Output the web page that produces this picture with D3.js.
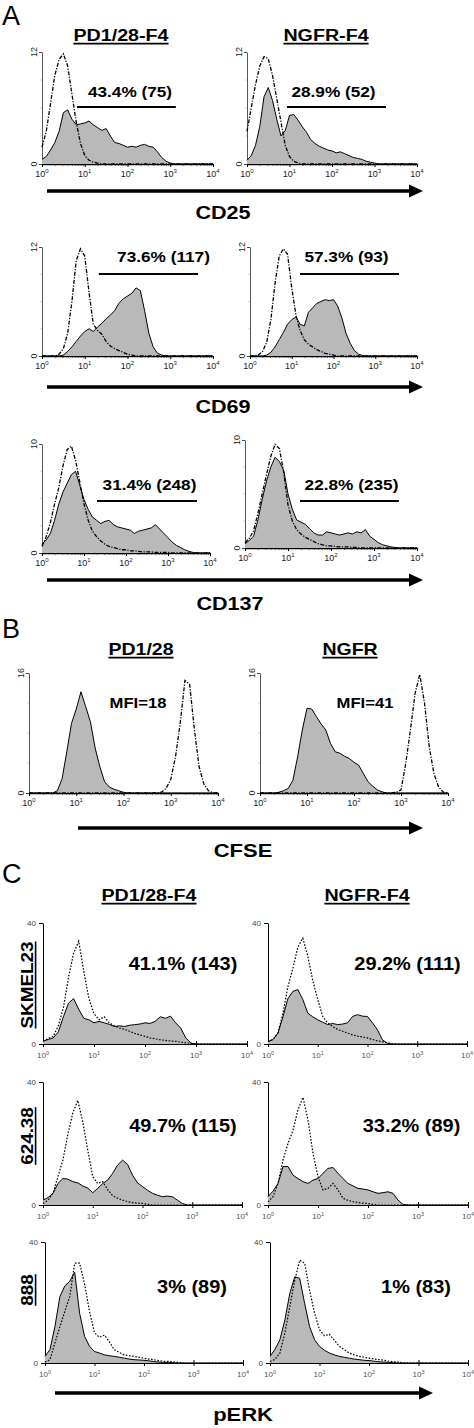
<!DOCTYPE html>
<html><head><meta charset="utf-8">
<script src="https://cdn.jsdelivr.net/npm/d3@7/dist/d3.min.js"></script>
<style>body{margin:0;background:#fff}svg{display:block}text{font-family:"Liberation Sans",Arial,sans-serif}</style>
</head><body><svg id="c" width="474" height="1428"></svg>
<script>
// ---------- data ----------
const binStep = 0.1;               // histogram bin width in decades (41 bins over 10^0..10^4)
const decades = [1, 10, 100, 1000, 10000];
const decadeExp = ["0", "1", "2", "3", "4"];

const groupsA = ["PD1/28-F4", "NGFR-F4"];
const groupsB = ["PD1/28", "NGFR"];
const groupsC = ["PD1/28-F4", "NGFR-F4"];
const markersA = ["CD25", "CD69", "CD137"];
const cellLinesC = ["SKMEL23", "624.38", "888"];
const yMaxA = [12, 12, 10];
const yMaxB = 16;
const yMaxC = 40;
const labelsA = [["43.4% (75)", "28.9% (52)"], ["73.6% (117)", "57.3% (93)"], ["31.4% (248)", "22.8% (235)"]];
const gatesA = [[[0.82, 3.13], [0.94, 3.27]], [[1.33, 3.65], [1.2, 3.57]], [[1.31, 3.69], [1.28, 3.58]]]; // log10 gate bounds
const labelsB = ["MFI=18", "MFI=41"];
const labelsC = [["41.1% (143)", "29.2% (111)"], ["49.7% (115)", "33.2% (89)"], ["3% (89)", "1% (83)"]];

// A: CD25
const cd25PD1Fill = [0.5,0.8,1.5,2.3,3.5,5.5,5.8,4.8,4.2,4.3,4.4,4.6,4.2,3.9,3.6,3.8,3.0,2.3,2.2,2.0,1.8,1.9,1.8,2.0,2.1,1.9,1.8,1.3,0.7,0.3,0.1];
const cd25PD1Ctrl = [1.8,3.5,6.5,9.5,11.2,11.8,10.5,7.5,4.5,2.2,0.9,0.4,0.2,0.1];
const cd25NGFRFill = [0.4,0.9,2.0,4.0,7.2,8.2,6.8,4.8,3.0,3.6,5.2,5.3,4.7,4.0,3.4,2.6,2.2,1.9,1.7,1.5,1.4,1.2,1.3,1.1,0.9,0.7,0.6,0.5,0.3,0.2,0.1];
const cd25NGFRCtrl = [3.5,6,8.5,10.5,11.5,11.3,9.5,7,4.5,2,0.8,0.3,0.1];
// A: CD69
const cd69PD1Fill = [0,0,0,0,0,0.1,0.5,1.0,1.6,2.2,2.7,3.0,2.7,3.2,3.6,4.1,4.5,5.0,5.8,6.3,6.6,6.9,7.5,7.2,5.0,2.5,1.0,0.3,0.1];
const cd69PD1Ctrl = [0,0,0,0,0.2,0.8,2.5,6,10.5,11.8,11,7,3.5,2.8,2.4,1.6,1.1,0.8,0.6,0.4,0.2,0.1];
const cd69NGFRFill = [0,0,0,0,0.1,0.4,1.0,1.8,2.6,3.5,4.0,4.3,3.5,3.3,4.8,5.3,5.8,6.0,6.2,6.1,6.2,5.5,4.2,2.5,1.4,0.6,0.2,0.05];
const cd69NGFRCtrl = [0,0,0.1,0.5,1.5,4,8,11,11.8,11.2,7.5,4.5,2.8,1.8,1.3,1.0,0.7,0.5,0.3,0.2,0.1];
// A: CD137
const cd137PD1Fill = [0.8,1.2,1.8,3.0,4.5,5.6,6.4,7.2,7.5,6.2,4.9,4.0,3.3,3.0,2.7,2.9,3.0,2.6,2.4,2.3,2.2,2.1,1.8,2.0,2.1,2.2,2.3,2.6,2.2,1.8,1.4,1.0,0.7,0.5,0.3,0.15,0.05];
const cd137PD1Ctrl = [0.6,1.5,2.8,4.5,6.0,8.0,9.5,9.8,8.5,6.5,4.5,3.0,2.0,1.5,1.1,0.8,0.6,0.5,0.4,0.3,0.3,0.2,0.2,0.15,0.1,0.1,0.1,0.05,0.05,0.05,0.05];
const cd137NGFRFill = [0.4,0.7,1.1,2.6,4.5,6.2,7.5,8.4,8.0,7.2,5.0,3.6,2.6,2.4,2.2,1.8,1.4,1.2,1.2,1.5,1.4,1.3,1.2,1.3,1.4,1.3,1.5,1.4,1.7,1.1,0.8,0.5,0.3,0.2,0.1,0.05];
const cd137NGFRCtrl = [0.5,0.9,1.6,3.2,5.0,6.8,8.5,9.6,9.2,7.0,4.0,2.5,1.7,1.3,1.0,0.8,0.6,0.4,0.3,0.2,0.2,0.15,0.1,0.1,0.1,0.05,0.05];
// B: CFSE
const cfsePD1Fill = [0,0,0,0,0,0,0.3,1.9,5.5,9.3,11.2,13.5,11.5,9.5,6.0,3.5,1.5,0.8,0.5,0.3,0.1];
const cfsePD1Ctrl = [0,0,0,0,0,0,0,0,0,0,0,0,0,0,0,0,0,0,0,0,0,0,0,0,0,0,0,0,0.1,0.6,1.8,4.8,9.3,15,14.5,8.5,3.5,1.2,0.3];
const cfseNGFRFill = [0,0,0,0,0.1,0.3,0.6,1.7,4.8,8.4,11.3,11.2,10.2,9.2,8.4,6.6,5.5,5.3,4.9,4.6,4.1,3.7,2.6,1.5,0.9,0.4,0.15];
const cfseNGFRCtrl = [0,0,0,0,0,0,0,0,0,0,0,0,0,0,0,0,0,0,0,0,0,0,0,0,0,0,0,0,0,0.1,0.4,3.9,8.4,13.3,15.8,12,6.2,2.6,0.8,0.1];
// C: pERK
const skPD1Fill = [0.9,1.5,2.0,4.0,9.0,13.5,15.0,11.5,8.5,8.0,7.0,7.5,7.0,6.5,5.8,6.0,5.8,6.2,6.4,6.6,7.0,6.8,7.5,9.0,8.5,9.2,7.0,5.3,2.0,0.3];
const skPD1Ctrl = [1,1.8,2.5,6,12,22,30,34,24,15,10,8,9,7,6,5.3,4.8,4.2,3.5,3.0,2.5,2.0,1.7,1.4,1.2,1.0,0.9,0.6,0.4,0.2];
const skNGFRFill = [0.8,1.5,3.6,9,15,17.4,18,14.7,10.2,9,8,7.2,6.4,6.8,6.4,6.6,7.0,9.1,9.7,9.2,9.1,7.0,4.7,1.4,0.2];
const skNGFRCtrl = [0.8,1.5,3.6,10,19,25,32,35,29,21,14.7,9.1,7,5.8,4.8,4.2,3.6,3.0,2.6,2.3,2.0,1.5,1.0,0.8,0.4,0.1];
const m624PD1Fill = [1.6,2.4,3.8,7,8.6,8.4,7.6,7.2,6.2,5.5,4.0,5.4,7,8.1,10.3,13,14.6,13.2,9.7,7.2,6,4.8,3.8,3.2,2.7,2.9,2.7,1.6,0.5];
const m624PD1Ctrl = [0.5,1.5,3.8,9.2,14.6,23,30,34,27,17.8,9.2,7,7.6,5,3,2.2,1.6,1.1,0.8,0.6,0.5,0.2];
const m624NGFRFill = [2.7,4.5,7,12.5,12.5,9.7,8.6,7.6,7.0,8.1,8.6,10.3,11.9,12.2,10.3,8.6,7,6.2,5.4,5.2,4.9,4.3,3.8,4.0,4.3,3.8,1.6,0.2];
const m624NGFRCtrl = [1,2.7,7,14.6,20,24.3,31,35,27.6,16.8,9.2,4.9,5.4,7,4.9,2.2,1.5,1.1,0.8,0.6,0.5,0.2];
const m888PD1Fill = [2.2,4.4,12,21.9,25.5,27,30,16.4,8.8,5.5,3.8,3.3,2.7,2.4,2.2,1.9,1.6,1.3,1.1,1.0,0.9,0.7,0.5,0.3,0.2,0.2,0.1];
const m888PD1Ctrl = [0.3,1.1,6.6,12,17,22,33,33,26,17,10,8.5,9.2,7,4.4,3.5,2.7,2.4,2.2,1.9,1.6,1.3,1.1,0.8,0.6,0.5,0.3,0.2];
const m888NGFRFill = [2.2,4.5,7.7,14.2,23,28.5,28,19.7,12,7.7,5.5,4.2,3.3,2.7,2.2,1.9,1.6,1.3,1.1,0.9,0.8,0.6,0.4,0.3,0.2,0.1];
const m888NGFRCtrl = [0.5,1.2,3.3,9.9,18.6,27.4,34,33,24,16.5,11,9,9.5,7.5,5.5,4.4,3.3,2.7,2.2,1.9,1.6,1.3,1.1,0.9,0.6,0.4,0.3,0.1];

// ---------- drawing ----------
const svg = d3.select("#c");
const FILL = "#b9b9b9";
const NB = 41;
const pad = a => a.concat(new Array(Math.max(0, NB - a.length)).fill(0));

function txt(parent, x, y, s, o) {
  const g = parent.append("g").attr("transform",
    `translate(${x},${y}) rotate(${o.rotate || 0}) scale(${o.sx || 1},1)`);
  const t = g.append("text").attr("text-anchor", o.anchor || "middle")
    .attr("font-size", o.size).attr("font-weight", o.weight || "bold")
    .attr("fill", o.fill || "#000").text(s);
  if (o.underline) {
    const w = t.node().getComputedTextLength();
    g.append("line").attr("x1", -w / 2).attr("x2", w / 2)
      .attr("y1", 2.6).attr("y2", 2.6).attr("stroke", "#000").attr("stroke-width", 1.6);
  }
  return t;
}

function arrow(x0, x1, y) {
  svg.append("line").attr("x1", x0).attr("x2", x1 - 10).attr("y1", y).attr("y2", y)
    .attr("stroke", "#000").attr("stroke-width", 3.6);
  svg.append("path").attr("d", `M${x1 - 14},${y - 6.5}L${x1},${y}L${x1 - 14},${y + 6.5}Z`).attr("fill", "#000");
}

function hist(p) {
  const g = svg.append("g");
  const x = d3.scaleLog().domain([1, 1e4]).range([p.x0, p.x1]);
  const y = d3.scaleLinear().domain([0, p.ymax]).range([p.y1, p.y0]);
  const pts = a => pad(a).map((v, i) => [Math.pow(10, i * binStep), v]);
  const area = d3.area().x(d => x(d[0])).y0(y(0)).y1(d => y(d[1]));
  const line = d3.line().x(d => x(d[0])).y(d => y(d[1]));
  const prism = p.style === "prism";

  // axes
  if (!prism) {
    // y minor ticks (quarters)
    [0.25, 0.5, 0.75].forEach(f => g.append("line").attr("x1", p.x0 - 2).attr("x2", p.x0)
      .attr("y1", y(p.ymax * f)).attr("y2", y(p.ymax * f)).attr("stroke", "#ccc").attr("stroke-width", 0.8));
    const ya = g.append("g").attr("transform", `translate(${p.x0},0)`)
      .call(d3.axisLeft(y).tickValues([0, p.ymax]).tickSize(3).tickSizeOuter(0).tickFormat(""));
    ya.select(".domain").attr("stroke", "#444").attr("stroke-width", 0.9);
    ya.selectAll(".tick line").attr("stroke", "#444");
    [0, p.ymax].forEach(v => txt(g, p.x0 - 5, y(v), String(v),
      { size: 9, weight: "normal", rotate: -90, fill: "#222" }));
    const minors = [];
    decades.slice(0, 4).forEach(d => [2, 3, 4, 5, 6, 7, 8, 9].forEach(k => minors.push(d * k)));
    g.append("g").attr("transform", `translate(0,${p.y1})`)
      .call(d3.axisBottom(x).tickValues(minors).tickSize(1.5).tickSizeOuter(0).tickFormat(""))
      .call(s => s.select(".domain").remove());
    const xa = g.append("g").attr("transform", `translate(0,${p.y1})`)
      .call(d3.axisBottom(x).tickValues(decades).tickSize(3).tickSizeOuter(0).tickFormat(""));
    xa.select(".domain").attr("stroke-width", 1.3);
  } else {
    const ya = g.append("g").attr("transform", `translate(${p.x0},0)`)
      .call(d3.axisLeft(y).tickValues([0, p.ymax]).tickSize(4).tickSizeOuter(0).tickFormat(d3.format("d")));
    ya.selectAll("text").attr("font-size", 8).attr("fill", "#444").attr("font-family", "Liberation Sans, Arial");
    const xa = g.append("g").attr("transform", `translate(0,${p.y1})`)
      .call(d3.axisBottom(x).tickValues(decades).tickSize(3).tickSizeOuter(0).tickFormat(""));
    xa.selectAll(".tick line").attr("y1", -3);
  }
  // x tick labels 10^n
  decades.forEach((d, i) => {
    const t = g.append("text").attr("x", x(d)).attr("y", p.y1 + (prism ? 14 : 12.5))
      .attr("text-anchor", "middle").attr("font-size", prism ? 8 : 9).attr("fill", prism ? "#555" : "#222");
    t.append("tspan").text("10");
    t.append("tspan").attr("dy", -3.5).attr("font-size", prism ? 5.5 : 6).text(decadeExp[i]);
  });

  // histograms
  g.append("path").datum(pts(p.fill)).attr("d", area).attr("fill", FILL);
  g.append("path").datum(pts(p.fill)).attr("d", line).attr("fill", "none")
    .attr("stroke", "#000").attr("stroke-width", 1).attr("stroke-linejoin", "round");
  g.append("path").datum(pts(p.ctrl)).attr("d", line).attr("fill", "none")
    .attr("stroke", "#000").attr("stroke-width", prism ? 1.2 : 1.3)
    .attr("stroke-dasharray", prism ? "1.6,1.6" : "4,1.5,1.2,1.5");
  return x;
}

// ---------- Panel A ----------
txt(svg, 2, 25, "A", { size: 27, weight: "normal", anchor: "start" });
[121, 326].forEach((cx, j) => txt(svg, cx, 41, groupsA[j], { size: 16, sx: 1.23, underline: true }));
const rectsA = [
  [{ x0: 42, x1: 213, y0: 52, y1: 164 }, { x0: 247, x1: 417, y0: 52, y1: 164 }],
  [{ x0: 42, x1: 213, y0: 247, y1: 356 }, { x0: 250, x1: 417, y0: 247, y1: 356 }],
  [{ x0: 42, x1: 210, y0: 444, y1: 553 }, { x0: 245, x1: 417, y0: 440, y1: 548 }]
];
const dataA = [
  [[cd25PD1Fill, cd25PD1Ctrl], [cd25NGFRFill, cd25NGFRCtrl]],
  [[cd69PD1Fill, cd69PD1Ctrl], [cd69NGFRFill, cd69NGFRCtrl]],
  [[cd137PD1Fill, cd137PD1Ctrl], [cd137NGFRFill, cd137NGFRCtrl]]
];
const labPosA = [[[130, 333.5], 97, 107], [[163.5, 346.5], 262, 274], [[149.5, 351.5], 490, 501]];
const axisLabPos = [[223, 219, 191], [223, 413, 387], [230, 610, 580]];
rectsA.forEach((row, r) => {
  row.forEach((rc, j) => {
    const x = hist(Object.assign({}, rc, { ymax: yMaxA[r], fill: dataA[r][j][0], ctrl: dataA[r][j][1], style: "flow" }));
    txt(svg, labPosA[r][0][j], labPosA[r][1], labelsA[r][j], { size: 14, sx: 1.23 });
    const gt = gatesA[r][j];
    svg.append("line").attr("x1", x(Math.pow(10, gt[0]))).attr("x2", x(Math.pow(10, gt[1])))
      .attr("y1", labPosA[r][2]).attr("y2", labPosA[r][2]).attr("stroke", "#000").attr("stroke-width", 2);
  });
  arrow(47, 423, axisLabPos[r][2]);
  txt(svg, axisLabPos[r][0], axisLabPos[r][1], markersA[r], { size: 18, sx: 1.2 });
});

// ---------- Panel B ----------
txt(svg, 2, 638, "B", { size: 27, weight: "normal", anchor: "start" });
[141, 350].forEach((cx, j) => txt(svg, cx, 655, groupsB[j], { size: 16, sx: 1.22, underline: true }));
const rectsB = [{ x0: 29, x1: 218, y0: 673, y1: 793 }, { x0: 260, x1: 448, y0: 673, y1: 793 }];
const dataB = [[cfsePD1Fill, cfsePD1Ctrl], [cfseNGFRFill, cfseNGFRCtrl]];
rectsB.forEach((rc, j) => {
  hist(Object.assign({}, rc, { ymax: yMaxB, fill: dataB[j][0], ctrl: dataB[j][1], style: "flow" }));
  txt(svg, [138, 365][j], 708, labelsB[j], { size: 14, sx: 1.19 });
});
arrow(78, 423, 828);
txt(svg, 243, 857, "CFSE", { size: 18, sx: 1.22 });

// ---------- Panel C ----------
txt(svg, 2, 883, "C", { size: 27, weight: "normal", anchor: "start" });
[149, 367].forEach((cx, j) => txt(svg, cx, 901, groupsC[j], { size: 16, sx: 1.23, underline: true }));
const rectsC = [
  [{ x0: 43, x1: 247, y0: 923, y1: 1044 }, { x0: 268, x1: 467, y0: 923, y1: 1044 }],
  [{ x0: 43, x1: 242, y0: 1082, y1: 1205 }, { x0: 268, x1: 468, y0: 1082, y1: 1205 }],
  [{ x0: 45, x1: 243, y0: 1242, y1: 1363 }, { x0: 270, x1: 468, y0: 1242, y1: 1363 }]
];
const dataC = [
  [[skPD1Fill, skPD1Ctrl], [skNGFRFill, skNGFRCtrl]],
  [[m624PD1Fill, m624PD1Ctrl], [m624NGFRFill, m624NGFRCtrl]],
  [[m888PD1Fill, m888PD1Ctrl], [m888NGFRFill, m888NGFRCtrl]]
];
const labPosC = [[[183, 407.5], 970], [[183, 411.5], 1132], [[192, 416], 1293]];
const rowLabY = [985, 1136, 1290];
rectsC.forEach((row, r) => {
  row.forEach((rc, j) => {
    hist(Object.assign({}, rc, { ymax: yMaxC, fill: dataC[r][j][0], ctrl: dataC[r][j][1], style: "prism" }));
    txt(svg, labPosC[r][0][j], labPosC[r][1], labelsC[r][j], { size: 19, sx: 1.05 });
  });
  txt(svg, 33, rowLabY[r], cellLinesC[r], { size: 16, sx: 1.18, rotate: -90, underline: true });
});
arrow(55, 433, 1393);
txt(svg, 243, 1421, "pERK", { size: 18, sx: 1.22 });
</script></body></html>
